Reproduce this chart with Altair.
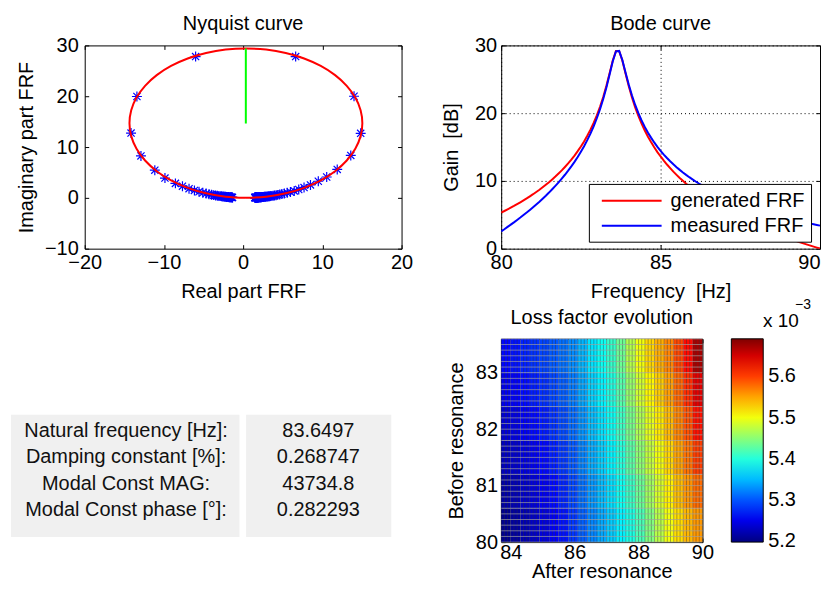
import altair as alt
import pandas as pd

FONT = "Liberation Sans"

# ---------------- data ----------------
freq = [80.0, 80.1, 80.2, 80.3, 80.4, 80.5, 80.6, 80.7, 80.8, 80.9,
        81.0, 81.1, 81.2, 81.3, 81.4, 81.5, 81.6, 81.7, 81.8, 81.9,
        82.0, 82.1, 82.2, 82.3, 82.4, 82.5, 82.6, 82.7, 82.8, 82.9,
        83.0, 83.1, 83.2, 83.3, 83.4, 83.5, 83.6, 83.7, 83.8, 83.9,
        84.0, 84.1, 84.2, 84.3, 84.4, 84.5, 84.6, 84.7, 84.8, 84.9,
        85.0, 85.1, 85.2, 85.3, 85.4, 85.5, 85.6, 85.7, 85.8, 85.9,
        86.0, 86.1, 86.2, 86.3, 86.4, 86.5, 86.6, 86.7, 86.8, 86.9,
        87.0, 87.1, 87.2, 87.3, 87.4, 87.5, 87.6, 87.7, 87.8, 87.9,
        88.0, 88.1, 88.2, 88.3, 88.4, 88.5, 88.6, 88.7, 88.8, 88.9,
        89.0, 89.1, 89.2, 89.3, 89.4, 89.5, 89.6, 89.7, 89.8, 89.9,
        90.0]

gain_generated = [5.33, 5.56, 5.81, 6.06, 6.31, 6.58, 6.85, 7.13, 7.42, 7.73,
                  8.04, 8.37, 8.70, 9.06, 9.43, 9.81, 10.22, 10.64, 11.09, 11.56,
                  12.06, 12.58, 13.14, 13.74, 14.39, 15.09, 15.83, 16.66, 17.56, 18.56,
                  19.68, 20.95, 22.39, 24.03, 25.88, 27.77, 29.16, 29.16, 27.77, 25.86,
                  24.01, 22.35, 20.90, 19.62, 18.49, 17.48, 16.56, 15.73, 14.97, 14.26,
                  13.61, 13.00, 12.42, 11.89, 11.38, 10.90, 10.44, 10.01, 9.59, 9.20,
                  8.82, 8.45, 8.10, 7.77, 7.44, 7.13, 6.83, 6.53, 6.25, 5.97,
                  5.71, 5.45, 5.20, 4.95, 4.71, 4.48, 4.25, 4.03, 3.81, 3.60,
                  3.40, 3.19, 3.00, 2.80, 2.61, 2.43, 2.25, 2.07, 1.89, 1.72,
                  1.55, 1.39, 1.22, 1.06, 0.91, 0.75, 0.60, 0.45, 0.30, 0.16,
                  0.02]

gain_measured = [2.55, 2.87, 3.21, 3.55, 3.88, 4.24, 4.59, 4.96, 5.33, 5.72,
                 6.12, 6.53, 6.94, 7.38, 7.82, 8.28, 8.77, 9.27, 9.79, 10.34,
                 10.91, 11.51, 12.14, 12.81, 13.53, 14.31, 15.12, 16.02, 16.99, 18.06,
                 19.25, 20.58, 22.09, 23.80, 25.72, 27.67, 29.13, 29.19, 27.86, 26.02,
                 24.23, 22.64, 21.25, 20.03, 18.96, 18.01, 17.16, 16.39, 15.68, 15.04,
                 14.44, 13.89, 13.38, 12.90, 12.45, 12.03, 11.63, 11.25, 10.89, 10.55,
                 10.23, 9.92, 9.62, 9.34, 9.07, 8.81, 8.56, 8.32, 8.09, 7.87,
                 7.66, 7.45, 7.25, 7.05, 6.86, 6.68, 6.50, 6.33, 6.17, 6.00,
                 5.85, 5.69, 5.55, 5.40, 5.26, 5.12, 4.99, 4.86, 4.73, 4.60,
                 4.48, 4.36, 4.25, 4.13, 4.02, 3.91, 3.81, 3.70, 3.60, 3.50,
                 3.40]

nyq_real = [-1.34, -1.39, -1.44, -1.50, -1.56, -1.62, -1.69, -1.77, -1.84, -1.93,
            -2.01, -2.11, -2.21, -2.33, -2.45, -2.58, -2.73, -2.89, -3.06, -3.26,
            -3.48, -3.72, -4.00, -4.31, -4.67, -5.09, -5.57, -6.15, -6.83, -7.66,
            -8.55, -9.87, -11.15, -12.90, -14.15, -13.41, -6.00, 6.63, 14.00, 14.84,
            13.59, 11.88, 10.55, 9.49, 8.50, 7.69, 7.02, 6.45, 5.97, 5.56,
            5.20, 4.89, 4.62, 4.37, 4.16, 3.96, 3.79, 3.63, 3.48, 3.35,
            3.23, 3.12, 3.02, 2.92, 2.83, 2.75, 2.67, 2.60, 2.53, 2.47,
            2.41, 2.35, 2.30, 2.25, 2.20, 2.15, 2.11, 2.07, 2.03, 1.99,
            1.96, 1.92, 1.89, 1.86, 1.83, 1.80, 1.77, 1.75, 1.72, 1.70,
            1.67, 1.65, 1.63, 1.61, 1.59, 1.57, 1.55, 1.53, 1.51, 1.49,
            1.48]

nyq_imag = [0.08, 0.09, 0.10, 0.10, 0.11, 0.12, 0.13, 0.14, 0.15, 0.16,
            0.17, 0.19, 0.21, 0.23, 0.25, 0.27, 0.30, 0.34, 0.38, 0.42,
            0.48, 0.54, 0.62, 0.72, 0.85, 1.00, 1.20, 1.46, 1.81, 2.30,
            2.85, 3.90, 5.45, 8.25, 12.75, 19.95, 27.80, 27.80, 20.00, 12.70,
            8.35, 5.60, 4.10, 3.27, 2.54, 2.02, 1.65, 1.37, 1.16, 0.99,
            0.86, 0.75, 0.66, 0.59, 0.53, 0.48, 0.43, 0.39, 0.36, 0.33,
            0.30, 0.28, 0.26, 0.24, 0.23, 0.21, 0.20, 0.19, 0.18, 0.17,
            0.16, 0.15, 0.14, 0.14, 0.13, 0.12, 0.12, 0.11, 0.11, 0.10,
            0.10, 0.09, 0.09, 0.09, 0.08, 0.08, 0.08, 0.08, 0.07, 0.07,
            0.07, 0.07, 0.06, 0.06, 0.06, 0.06, 0.06, 0.05, 0.05, 0.05,
            0.05]

circle_real = [0.35, 2.90, 5.38, 7.70, 9.80, 11.61, 13.08, 14.16, 14.83, 15.05,
               14.83, 14.16, 13.08, 11.61, 9.80, 7.70, 5.38, 2.90, 0.35, -2.20,
               -4.68, -7.00, -9.10, -10.91, -12.38, -13.46, -14.13, -14.35, -14.13, -13.46,
               -12.38, -10.91, -9.10, -7.00, -4.68, -2.20, 0.35]
circle_imag = [0.00, 0.22, 0.89, 1.97, 3.44, 5.25, 7.35, 9.67, 12.15, 14.70,
               17.25, 19.73, 22.05, 24.15, 25.96, 27.43, 28.51, 29.18, 29.40, 29.18,
               28.51, 27.43, 25.96, 24.15, 22.05, 19.73, 17.25, 14.70, 12.15, 9.67,
               7.35, 5.25, 3.44, 1.97, 0.89, 0.22, 0.00]

green_real = [0.34, 0.34]
green_imag = [14.63, 29.40]

series_names = ["generated FRF", "measured FRF"]

hm_x_edges = [83.7, 84.0, 84.3, 84.6, 84.9, 85.2, 85.5, 85.8, 86.1, 86.4, 86.7,
              87.0, 87.3, 87.6, 87.9, 88.2, 88.5, 88.8, 89.1, 89.4, 89.7, 90.0]
hm_y_edges = [80.0, 80.6, 81.2, 81.8, 82.4, 83.0, 83.6]
# loss factor (x 1e-3), rows from bottom (80.0) to top (83.6)
loss_factor_e3 = [
    [5.205, 5.213, 5.222, 5.232, 5.243, 5.255, 5.268, 5.285, 5.305, 5.323, 5.340,
     5.358, 5.377, 5.396, 5.418, 5.445, 5.472, 5.500, 5.522, 5.541, 5.556],
    [5.216, 5.224, 5.233, 5.242, 5.253, 5.264, 5.277, 5.293, 5.313, 5.332, 5.350,
     5.368, 5.389, 5.411, 5.434, 5.461, 5.487, 5.513, 5.537, 5.558, 5.578],
    [5.228, 5.235, 5.243, 5.252, 5.263, 5.274, 5.286, 5.301, 5.322, 5.342, 5.359,
     5.378, 5.400, 5.426, 5.451, 5.477, 5.501, 5.526, 5.551, 5.575, 5.600],
    [5.239, 5.246, 5.254, 5.263, 5.272, 5.283, 5.295, 5.310, 5.330, 5.351, 5.369,
     5.388, 5.412, 5.440, 5.467, 5.493, 5.516, 5.540, 5.566, 5.591, 5.621],
    [5.251, 5.257, 5.264, 5.273, 5.282, 5.293, 5.304, 5.318, 5.339, 5.361, 5.378,
     5.398, 5.423, 5.455, 5.484, 5.509, 5.530, 5.553, 5.580, 5.608, 5.643],
    [5.262, 5.268, 5.275, 5.283, 5.292, 5.302, 5.313, 5.326, 5.347, 5.370, 5.388,
     5.408, 5.435, 5.470, 5.500, 5.525, 5.545, 5.566, 5.595, 5.625, 5.672],
]
colorbar_min, colorbar_max = 5.198, 5.691
colorbar_ticks = [5.2, 5.3, 5.4, 5.5, 5.6]

table_labels = ["Natural frequency [Hz]:", "Damping constant [%]:",
                "Modal Const MAG:", "Modal Const phase [°]:"]
table_values = ["83.6497", "0.268747", "43734.8", "0.282293"]

# ---------------- styling helpers ----------------
JET = ["#000080", "#0000ff", "#0080ff", "#00ffff", "#80ff80",
       "#ffff00", "#ff8000", "#ff0000", "#800000"]
STAR = "M-1,0L1,0M0,-1L0,1M-0.72,-0.72L0.72,0.72M-0.72,0.72L0.72,-0.72"

W1, W2, WH, H = 318, 320, 202, 204


def main_axis(orient, title, values, lpad, tpad, grid=False, **extra):
    kw = dict(orient=orient, title=title, values=values, ticks=False, tickSize=0,
              domain=False, labelPadding=lpad, titlePadding=tpad, grid=grid,
              labelFlush=False, labelOverlap=False, labelFontSize=20, titleFontSize=20,
              labelColor="black", titleColor="black", titleFontWeight="normal")
    if grid:
        kw.update(gridDash=[1, 3], gridColor="black", gridOpacity=1, gridWidth=1)
    kw.update(extra)
    return alt.Axis(**kw)


def tick_axis(orient, offset, values):
    return alt.Axis(orient=orient, offset=offset, values=values, labels=False,
                    domain=False, ticks=True, tickSize=4, tickColor="black",
                    tickWidth=1, title=None, grid=False)


def ttl(text, offset):
    return alt.TitleParams(text=text, offset=offset, fontSize=20, fontWeight="normal",
                           color="black", anchor="middle")


# ---------------- Nyquist ----------------
nx = alt.Scale(domain=[-20, 20], nice=False, zero=False)
ny = alt.Scale(domain=[-10, 30], nice=False, zero=False)
nxt = [-20, -10, 0, 10, 20]
nyt = [-10, 0, 10, 20, 30]
meas_df = pd.DataFrame({"re": nyq_real, "im": nyq_imag})
circ_df = pd.DataFrame({"i": list(range(len(circle_real))), "re": circle_real, "im": circle_imag})
green_df = pd.DataFrame({"re": green_real, "im": green_imag})

stars = alt.Chart(meas_df).mark_point(shape=STAR, size=100, filled=False, strokeWidth=1.2,
                                      color="#0000ff", opacity=1).encode(
    x=alt.X("re:Q", scale=nx, axis=main_axis("bottom", "Real part FRF", nxt, 3.5, 10)),
    y=alt.Y("im:Q", scale=ny, axis=main_axis("left", "Imaginary part FRF", nyt, 6.5, 8)),
)
circle = alt.Chart(circ_df).mark_line(color="#ff0000", strokeWidth=2, interpolate="cardinal").encode(
    x=alt.X("re:Q", scale=nx, axis=tick_axis("top", -H, nxt)),
    y=alt.Y("im:Q", scale=ny, axis=tick_axis("right", -W1, nyt)),
    order="i:Q",
)
green = alt.Chart(green_df).mark_line(color="#00ff00", strokeWidth=2).encode(
    x=alt.X("re:Q", scale=nx, axis=tick_axis("bottom", -H, nxt)),
    y=alt.Y("im:Q", scale=ny, axis=tick_axis("left", -W1, nyt)),
)
nyq = alt.layer(stars, circle, green).properties(width=W1, height=H, title=ttl("Nyquist curve", 1))

# ---------------- Bode ----------------
bode_df = pd.DataFrame({
    "f": freq + freq,
    "gain": gain_generated + gain_measured,
    "series": [series_names[0]] * len(freq) + [series_names[1]] * len(freq),
})
bx = alt.Scale(domain=[80, 90], nice=False, zero=False)
by = alt.Scale(domain=[0, 30], nice=False, zero=False)
bxt = [80, 85, 90]
byt = [0, 10, 20, 30]
bode_lines = alt.Chart(bode_df).mark_line(strokeWidth=2, clip=True).encode(
    x=alt.X("f:Q", scale=bx, axis=main_axis(
        "bottom", "Frequency \u00a0[Hz]", bxt, 3.5, 10, grid=True,
        labelAlign={"condition": {"test": "datum.value >= 90", "value": "right"}, "value": "center"})),
    y=alt.Y("gain:Q", scale=by, axis=main_axis("left", "Gain \u00a0[dB]", byt, 4.5, 12.6, grid=True)),
    color=alt.Color("series:N", scale=alt.Scale(domain=series_names, range=["#ff0000", "#0000ff"]),
                    legend=alt.Legend(orient="none", legendX=88, legendY=139, title=None,
                                      symbolType="M-3,0L3,0", symbolSize=400, symbolStrokeWidth=2,
                                      symbolOffset=26, labelOffset=28, labelFontSize=20,
                                      labelColor="black", fillColor="white", strokeColor="black",
                                      padding=6, rowPadding=4, labelLimit=300)),
)
bode_h1 = alt.Chart(bode_df).mark_point(opacity=0).encode(
    x=alt.X("f:Q", scale=bx, axis=tick_axis("top", -H, bxt)),
    y=alt.Y("gain:Q", scale=by, axis=tick_axis("right", -W2, byt)),
)
bode_h2 = alt.Chart(bode_df).mark_point(opacity=0).encode(
    x=alt.X("f:Q", scale=bx, axis=tick_axis("bottom", -H, bxt)),
    y=alt.Y("gain:Q", scale=by, axis=tick_axis("left", -W2, byt)),
)
# colorbar multiplier of the loss-factor map (placed here so it does not push that map's title)
mult = alt.Chart(pd.DataFrame({"t": ["x 10"]})).mark_text(
    align="left", baseline="alphabetic", fontSize=19, color="black").encode(
    text="t:N", x=alt.value(262.7), y=alt.value(283))
expo = alt.Chart(pd.DataFrame({"t": ["\u22123"]})).mark_text(
    align="left", baseline="alphabetic", fontSize=14, color="black").encode(
    text="t:N", x=alt.value(295), y=alt.value(265))
bode = alt.layer(bode_lines, bode_h1, bode_h2, mult, expo).properties(
    width=W2, height=H, title=ttl("Bode curve", 1))

# ---------------- table ----------------
tbl = pd.DataFrame({"label": table_labels, "value": table_values})
row_scale = alt.Scale(type="point", domain=table_labels, range=[92.3, 172.3], padding=0)
one = pd.DataFrame({"k": [0]})
box1 = alt.Chart(one).mark_rect(color="#f0f0f0").encode(
    x=alt.value(-74), x2=alt.value(155.3), y=alt.value(76.3), y2=alt.value(199))
box2 = alt.Chart(one).mark_rect(color="#f0f0f0").encode(
    x=alt.value(162), x2=alt.value(307.7), y=alt.value(76.3), y2=alt.value(199))
lab = alt.Chart(tbl).mark_text(fontSize=20, color="#111111", align="center").encode(
    text="label:N", y=alt.Y("label:N", scale=row_scale, axis=None), x=alt.value(41.5))
val = alt.Chart(tbl).mark_text(fontSize=20, color="#111111", align="center").encode(
    text="value:N", y=alt.Y("label:N", scale=row_scale, axis=None), x=alt.value(234.5))
table = alt.layer(box1, box2, lab, val).properties(
    width=W1, height=H, view=alt.ViewBackground(stroke="transparent"))

# ---------------- loss factor map ----------------
cells = []
for r in range(len(hm_y_edges) - 1):
    for c in range(len(hm_x_edges) - 1):
        cells.append({"x0": hm_x_edges[c], "x1": hm_x_edges[c + 1],
                      "y0": hm_y_edges[r], "y1": hm_y_edges[r + 1],
                      "v": loss_factor_e3[r][c]})
cells_df = pd.DataFrame(cells)
mesh_x = pd.DataFrame({"f": [f for f in freq if f >= 83.69]})
mesh_y = pd.DataFrame({"f": [f for f in freq if f <= 83.61]})

hx = alt.Scale(domain=[83.7, 90], nice=False, zero=False)
hy = alt.Scale(domain=[80, 83.6], nice=False, zero=False)
hxt = [84, 86, 88, 90]
hyt = [80, 81, 82, 83]
stops = [colorbar_min + k * (colorbar_max - colorbar_min) / 8 for k in range(9)]

rects = alt.Chart(cells_df).mark_rect().encode(
    x=alt.X("x0:Q", scale=hx, axis=main_axis("bottom", "After resonance", hxt, 0, 0)),
    x2="x1:Q",
    y=alt.Y("y0:Q", scale=hy, axis=main_axis("left", "Before resonance", hyt, 3.7, 8.6)),
    y2="y1:Q",
    color=alt.Color("v:Q", scale=alt.Scale(domain=stops, range=JET, interpolate="rgb"),
                    legend=alt.Legend(orient="none", legendX=231, legendY=0, title=None,
                                      direction="vertical", gradientLength=H,
                                      gradientThickness=32, gradientStrokeColor="black",
                                      gradientStrokeWidth=1, values=colorbar_ticks, format=".1f",
                                      labelFontSize=20, labelColor="black", labelOffset=5,
                                      labelOverlap=False, padding=0)),
)
vlines = alt.Chart(mesh_x).mark_rule(color="#303030", strokeWidth=0.8, opacity=0.5).encode(
    x=alt.X("f:Q", scale=hx, axis=tick_axis("top", -H, hxt)))
hlines = alt.Chart(mesh_y).mark_rule(color="#a0a0a0", strokeWidth=0.8, opacity=0.85).encode(
    y=alt.Y("f:Q", scale=hy, axis=tick_axis("right", -WH, hyt)))
hm_host = alt.Chart(cells_df).mark_point(opacity=0).encode(
    x=alt.X("x0:Q", scale=hx, axis=tick_axis("bottom", -H, hxt)),
    y=alt.Y("y0:Q", scale=hy, axis=tick_axis("left", -WH, hyt)))
heat = alt.layer(rects, vlines, hlines, hm_host).properties(
    width=WH, height=H, title=ttl("Loss factor evolution", 10.5))

chart = alt.concat(
    nyq, bode, table, heat, columns=2,
    spacing={"row": 90.5, "column": 100}, bounds="flush", align="each",
    padding={"left": 2, "top": 4.5, "right": 0, "bottom": 0},
).configure(font=FONT).configure_view(stroke="black", strokeWidth=1).configure_axis(
    labelFontSize=20, titleFontSize=20, labelColor="black", titleColor="black",
    titleFontWeight="normal", tickColor="black",
).configure_title(fontSize=20, fontWeight="normal", color="black")

chart.save("out.html", embed_options={"renderer": "svg", "actions": False})
